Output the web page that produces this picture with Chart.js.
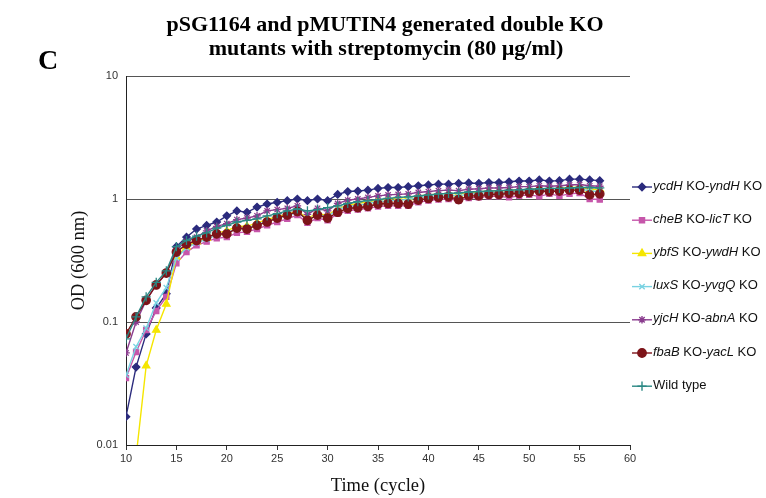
<!DOCTYPE html>
<html>
<head>
<meta charset="utf-8">
<script src="https://cdn.jsdelivr.net/npm/chart.js@4/dist/chart.umd.min.js"></script>
<style>
  body { margin: 0; background: #fff; }
  #wrap { width: 766px; height: 498px; }
</style>
</head>
<body>
<div id="wrap"><canvas id="growth"></canvas></div>
<script>
// cycles (x values)
const cycles = [10, 11, 12, 13, 14, 15, 16, 17, 18, 19, 20, 21, 22, 23, 24, 25,
  26, 27, 28, 29, 30, 31, 32, 33, 34, 35, 36, 37, 38, 39, 40, 41,
  42, 43, 44, 45, 46, 47, 48, 49, 50, 51, 52, 53, 54, 55, 56, 57];

// OD (600 nm), one value per cycle
const ycdH = [0.017, 0.043, 0.08, 0.13, 0.17, 0.41, 0.49, 0.57, 0.61, 0.65, 0.73, 0.80, 0.78, 0.86, 0.91, 0.94,
  0.97, 1.0, 0.97, 1.0, 0.97, 1.09, 1.15, 1.16, 1.18, 1.22, 1.24, 1.24, 1.26, 1.28, 1.30, 1.32,
  1.32, 1.34, 1.35, 1.34, 1.36, 1.36, 1.38, 1.40, 1.40, 1.43, 1.40, 1.41, 1.45, 1.45, 1.43, 1.41];
const cheB = [0.035, 0.057, 0.086, 0.123, 0.16, 0.30, 0.37, 0.42, 0.45, 0.48, 0.49, 0.53, 0.54, 0.57, 0.61, 0.65,
  0.69, 0.74, 0.64, 0.70, 0.67, 0.76, 0.80, 0.82, 0.84, 0.87, 0.88, 0.88, 0.88, 0.94, 0.97, 0.99,
  1.0, 0.97, 1.02, 1.03, 1.05, 1.05, 1.03, 1.06, 1.08, 1.05, 1.10, 1.06, 1.10, 1.12, 1.0, 0.99];
const ybfS = [0.004, 0.008, 0.044, 0.086, 0.14, 0.34, 0.41, 0.45, 0.48, 0.53, 0.55, 0.60, 0.60, 0.64, 0.68, 0.72,
  0.75, 0.80, 0.70, 0.76, 0.74, 0.83, 0.89, 0.92, 0.95, 0.98, 1.0, 1.02, 1.03, 1.06, 1.08, 1.10,
  1.11, 1.10, 1.13, 1.14, 1.16, 1.16, 1.17, 1.19, 1.19, 1.21, 1.21, 1.22, 1.24, 1.25, 1.20, 1.20];
const luxS = [0.037, 0.063, 0.089, 0.143, 0.19, 0.33, 0.40, 0.44, 0.47, 0.51, 0.53, 0.57, 0.58, 0.62, 0.66, 0.70,
  0.73, 0.78, 0.68, 0.74, 0.72, 0.82, 0.87, 0.89, 0.92, 0.95, 0.97, 0.98, 0.99, 1.03, 1.05, 1.07,
  1.08, 1.06, 1.10, 1.11, 1.13, 1.13, 1.14, 1.16, 1.17, 1.18, 1.18, 1.19, 1.21, 1.22, 1.16, 1.15];
const yjcH = [0.056, 0.10, 0.15, 0.20, 0.25, 0.39, 0.45, 0.49, 0.55, 0.60, 0.63, 0.68, 0.70, 0.73, 0.80, 0.82,
  0.84, 0.88, 0.75, 0.84, 0.80, 0.92, 0.98, 1.0, 1.03, 1.06, 1.08, 1.09, 1.10, 1.13, 1.15, 1.17,
  1.18, 1.17, 1.20, 1.21, 1.23, 1.23, 1.24, 1.26, 1.26, 1.28, 1.27, 1.28, 1.30, 1.31, 1.28, 1.27];
const fbaB = [0.08, 0.11, 0.15, 0.20, 0.25, 0.37, 0.43, 0.46, 0.49, 0.52, 0.52, 0.58, 0.57, 0.61, 0.65, 0.70,
  0.74, 0.79, 0.67, 0.74, 0.70, 0.78, 0.84, 0.85, 0.87, 0.91, 0.92, 0.92, 0.91, 0.98, 1.01, 1.03,
  1.04, 0.99, 1.06, 1.06, 1.09, 1.09, 1.11, 1.11, 1.13, 1.16, 1.15, 1.16, 1.18, 1.18, 1.08, 1.10];
const wildType = [0.073, 0.11, 0.16, 0.21, 0.26, 0.41, 0.46, 0.50, 0.53, 0.58, 0.61, 0.65, 0.67, 0.69, 0.73, 0.76,
  0.80, 0.83, 0.80, 0.82, 0.85, 0.88, 0.92, 0.95, 0.97, 0.99, 1.01, 1.03, 1.04, 1.06, 1.08, 1.10,
  1.11, 1.12, 1.14, 1.15, 1.16, 1.17, 1.18, 1.19, 1.20, 1.21, 1.22, 1.22, 1.23, 1.24, 1.24, 1.23];

const yTicks = [0.01, 0.1, 1, 10];
const xTicks = [10, 15, 20, 25, 30, 35, 40, 45, 50, 55, 60];

const titleLines = ["pSG1164 and pMUTIN4 generated double KO", "mutants with streptomycin (80 \u00b5g/ml)"];
// legend labels: [text, italic]
const legendLabels = [
  [["ycdH", true], [" KO-", false], ["yndH", true], [" KO", false]],
  [["cheB", true], [" KO-", false], ["licT", true], [" KO", false]],
  [["ybfS", true], [" KO-", false], ["ywdH", true], [" KO", false]],
  [["luxS", true], [" KO-", false], ["yvgQ", true], [" KO", false]],
  [["yjcH", true], [" KO-", false], ["abnA", true], [" KO", false]],
  [["fbaB", true], [" KO-", false], ["yacL", true], [" KO", false]],
  [["Wild type", false]],
];

const seriesData = [ycdH, cheB, ybfS, luxS, yjcH, fbaB, wildType];
const colors = ["#2b2b7d", "#c656aa", "#f5e600", "#79d2e2", "#8a3c8e", "#7d1419", "#2b8884"];
const shapes = ["rectRot", "rect", "triangle", "crossRot", "star", "circle", "cross"];
const radii = [3.7, 3.6, 4.2, 3.8, 3.8, 4.2, 4.6];

const datasets = seriesData.map((vals, i) => ({
  label: legendLabels[i].map(p => p[0]).join(""),
  data: cycles.map((c, j) => ({ x: c, y: vals[j] })),
  borderColor: colors[i],
  backgroundColor: colors[i],
  pointStyle: shapes[i],
  pointRadius: radii[i],
  pointBorderWidth: 1.3,
  borderWidth: 1.4,
  order: seriesData.length - i,
}));

// title, panel letter and legend drawn by hand
const annot = {
  id: "annot",
  afterDraw(chart) {
    const ctx = chart.ctx;
    ctx.save();
    ctx.fillStyle = "#000";
    ctx.textBaseline = "middle";
    ctx.font = "bold 28px 'Liberation Serif'";
    ctx.textAlign = "left";
    ctx.fillText("C", 38, 62);
    ctx.font = "bold 22px 'Liberation Serif'";
    ctx.textAlign = "center";
    ctx.fillText(titleLines[0], 385, 25);
    ctx.fillText(titleLines[1], 386, 49);

    ctx.textAlign = "left";
    legendLabels.forEach((parts, i) => {
      const y = 187 + i * 33.2;
      ctx.strokeStyle = colors[i];
      ctx.fillStyle = colors[i];
      ctx.lineWidth = 1.4;
      ctx.beginPath();
      ctx.moveTo(632, y);
      ctx.lineTo(652, y);
      ctx.stroke();
      Chart.helpers.drawPoint(ctx, {
        pointStyle: shapes[i], radius: radii[i], borderWidth: 1.3, rotation: 0
      }, 642, y);
      let x = 653;
      ctx.fillStyle = "#111";
      parts.forEach(([t, it]) => {
        ctx.font = (it ? "italic " : "") + "13px 'Liberation Sans'";
        ctx.fillText(t, x, y - 1);
        x += ctx.measureText(t).width;
      });
    });
    ctx.restore();
  }
};

new Chart(document.getElementById("growth"), {
  type: "line",
  data: { datasets },
  plugins: [annot],
  options: {
    responsive: true,
    maintainAspectRatio: false,
    animation: false,
    layout: { padding: { left: 66, right: 136, top: 76, bottom: 0 } },
    plugins: { legend: { display: false }, tooltip: { enabled: false } },
    scales: {
      x: {
        type: "linear",
        min: 10,
        max: 60,
        afterBuildTicks: s => { s.ticks = xTicks.map(v => ({ value: v })); },
        afterFit: s => { s.height = 53; },
        grid: { drawOnChartArea: false, drawTicks: true, tickLength: 5, color: "#333" },
        border: { color: "#222", width: 1 },
        ticks: { color: "#333", font: { family: "Liberation Sans", size: 11 }, padding: 2, maxRotation: 0 },
        title: {
          display: true, text: "Time (cycle)", color: "#111",
          font: { family: "Liberation Serif", size: 18.5 }, padding: { top: 0, bottom: 1 }
        }
      },
      y: {
        type: "logarithmic",
        min: 0.01,
        max: 10,
        afterBuildTicks: s => { s.ticks = yTicks.map(v => ({ value: v })); },
        afterFit: s => { s.width = 60; },
        grid: { color: "#555", lineWidth: 1, drawTicks: false },
        border: { color: "#222", width: 1 },
        ticks: {
          color: "#333", font: { family: "Liberation Sans", size: 11 }, padding: 8,
          callback: v => String(v)
        },
        title: {
          display: true, text: "OD (600 nm)", color: "#111",
          font: { family: "Liberation Serif", size: 18.5 }, padding: { top: 2, bottom: 0 }
        }
      }
    }
  }
});
</script>
</body>
</html>
